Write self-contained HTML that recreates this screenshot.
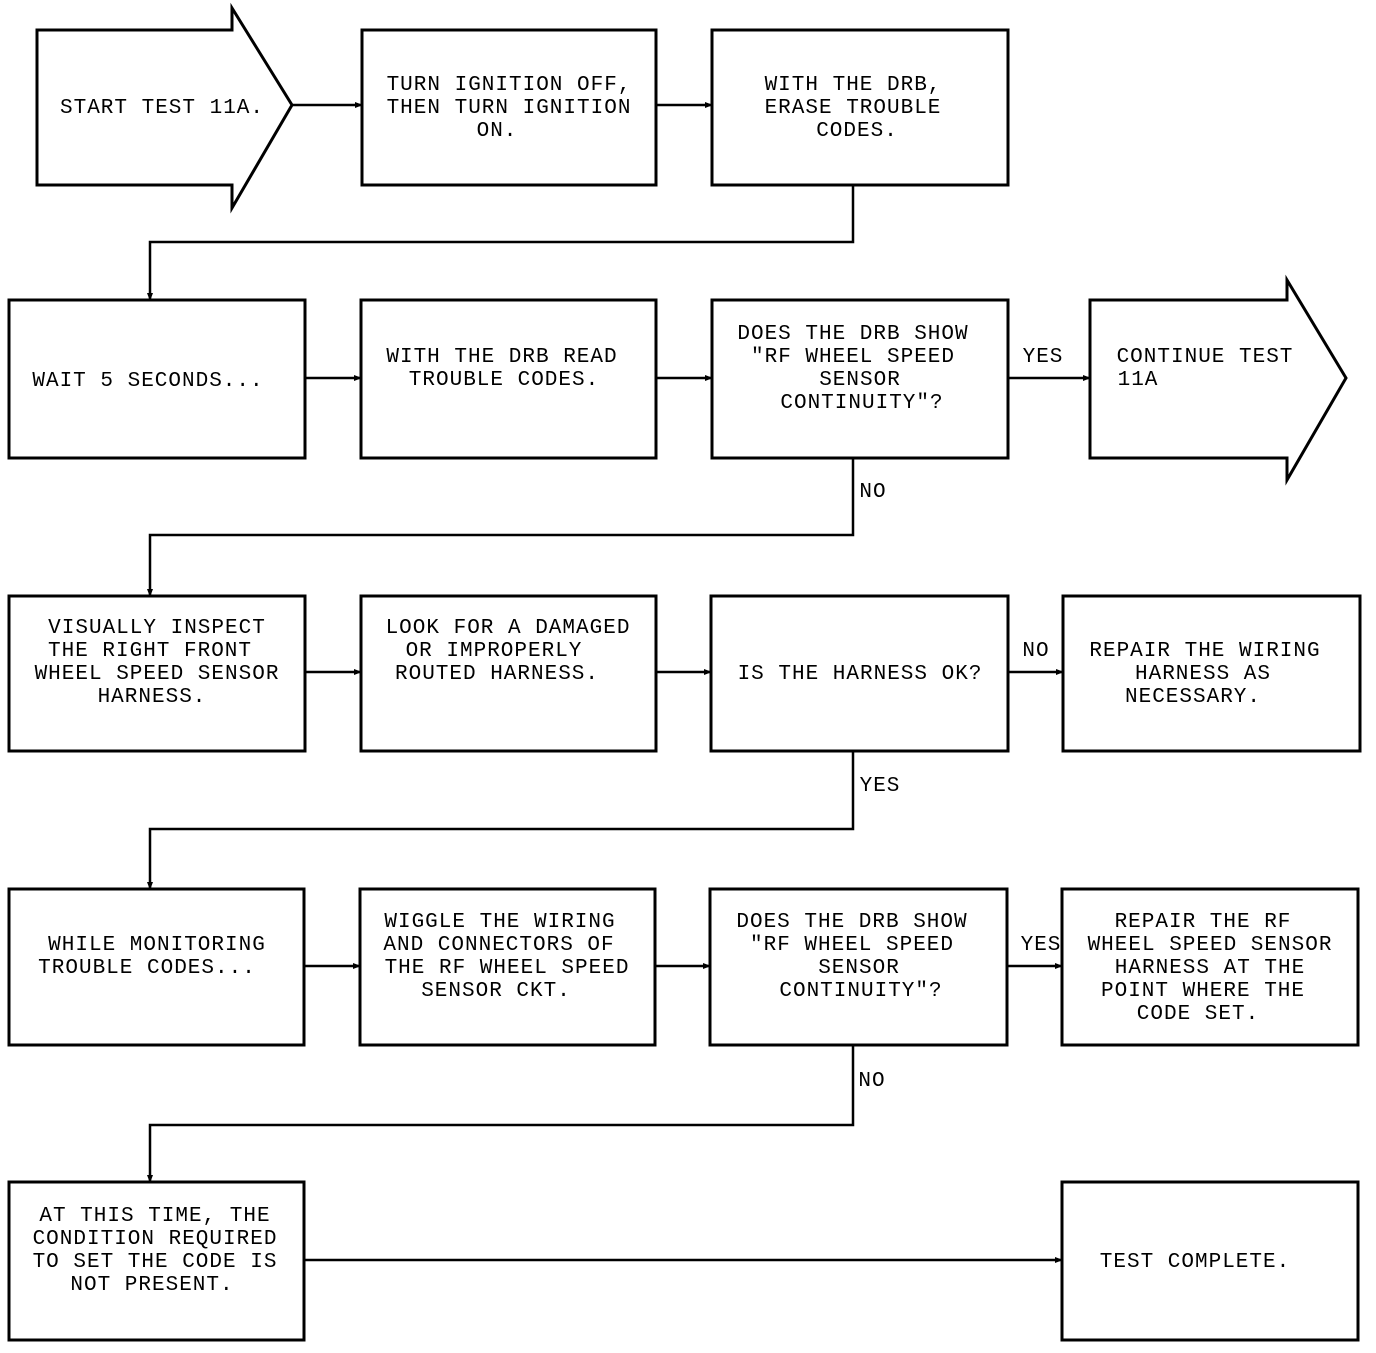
<!DOCTYPE html>
<html><head><style>
html,body{margin:0;padding:0;background:#fff}
svg text{font-family:"Liberation Mono",monospace;font-size:21px;fill:#000;text-anchor:middle;letter-spacing:1px}
</style></head><body>
<svg width="1376" height="1348" viewBox="0 0 1376 1348" xmlns="http://www.w3.org/2000/svg">
<defs><marker id="a" markerWidth="8" markerHeight="8" refX="7" refY="4" orient="auto" markerUnits="userSpaceOnUse"><path d="M0,1 L8,4 L0,7 z" fill="#000"/></marker></defs>
<g fill="none" stroke="#000" stroke-width="3">
<path d="M37,30 H232 V8 L292,105 L232,208 V185 H37 Z"/>
<rect x="362" y="30" width="294" height="155"/>
<rect x="712" y="30" width="296" height="155"/>
<rect x="9" y="300" width="296" height="158"/>
<rect x="361" y="300" width="295" height="158"/>
<rect x="712" y="300" width="296" height="158"/>
<path d="M1090,300 H1287 V280 L1346,378 L1287,480 V458 H1090 Z"/>
<rect x="9" y="596" width="296" height="155"/>
<rect x="361" y="596" width="295" height="155"/>
<rect x="711" y="596" width="297" height="155"/>
<rect x="1063" y="596" width="297" height="155"/>
<rect x="9" y="889" width="295" height="156"/>
<rect x="360" y="889" width="295" height="156"/>
<rect x="710" y="889" width="297" height="156"/>
<rect x="1062" y="889" width="296" height="156"/>
<rect x="9" y="1182" width="295" height="158"/>
<rect x="1062" y="1182" width="296" height="158"/>
</g>
<g fill="none" stroke="#000" stroke-width="2.5" marker-end="url(#a)">
<path d="M292,105 H362"/>
<path d="M656,105 H712"/>
<path d="M853,185 V242 H150 V300"/>
<path d="M305,378 H361"/>
<path d="M656,378 H712"/>
<path d="M1008,378 H1090"/>
<path d="M853,458 V535 H150 V596"/>
<path d="M305,672 H361"/>
<path d="M656,672 H711"/>
<path d="M1008,672 H1063"/>
<path d="M853,751 V829 H150 V889"/>
<path d="M304,966 H360"/>
<path d="M655,966 H710"/>
<path d="M1007,966 H1062"/>
<path d="M853,1045 V1125 H150 V1182"/>
<path d="M304,1260 H1062"/>
</g>
<text x="162" y="113">START TEST 11A.</text>
<text x="509" y="90">TURN IGNITION OFF,</text>
<text x="509" y="113">THEN TURN IGNITION</text>
<text x="497" y="136">ON.</text>
<text x="853" y="90">WITH THE DRB,</text>
<text x="853" y="113">ERASE TROUBLE</text>
<text x="857" y="136">CODES.</text>
<text x="148" y="386">WAIT 5 SECONDS...</text>
<text x="502" y="362">WITH THE DRB READ</text>
<text x="504" y="385">TROUBLE CODES.</text>
<text x="853" y="339">DOES THE DRB SHOW</text>
<text x="853" y="362">"RF WHEEL SPEED</text>
<text x="860" y="385">SENSOR</text>
<text x="862" y="408">CONTINUITY"?</text>
<text x="1043" y="362">YES</text>
<text x="1205" y="362">CONTINUE TEST</text>
<text x="1138" y="385">11A</text>
<text x="873" y="497">NO</text>
<text x="157" y="633">VISUALLY INSPECT</text>
<text x="150" y="656">THE RIGHT FRONT</text>
<text x="157" y="679">WHEEL SPEED SENSOR</text>
<text x="152" y="702">HARNESS.</text>
<text x="508" y="633">LOOK FOR A DAMAGED</text>
<text x="494" y="656">OR IMPROPERLY</text>
<text x="497" y="679">ROUTED HARNESS.</text>
<text x="860" y="679">IS THE HARNESS OK?</text>
<text x="1036" y="656">NO</text>
<text x="1205" y="656">REPAIR THE WIRING</text>
<text x="1203" y="679">HARNESS AS</text>
<text x="1193" y="702">NECESSARY.</text>
<text x="880" y="791">YES</text>
<text x="157" y="950">WHILE MONITORING</text>
<text x="147" y="973">TROUBLE CODES...</text>
<text x="500" y="927">WIGGLE THE WIRING</text>
<text x="499" y="950">AND CONNECTORS OF</text>
<text x="507" y="973">THE RF WHEEL SPEED</text>
<text x="496" y="996">SENSOR CKT.</text>
<text x="852" y="927">DOES THE DRB SHOW</text>
<text x="852" y="950">"RF WHEEL SPEED</text>
<text x="859" y="973">SENSOR</text>
<text x="861" y="996">CONTINUITY"?</text>
<text x="1041" y="950">YES</text>
<text x="1203" y="927">REPAIR THE RF</text>
<text x="1210" y="950">WHEEL SPEED SENSOR</text>
<text x="1210" y="973">HARNESS AT THE</text>
<text x="1203" y="996">POINT WHERE THE</text>
<text x="1198" y="1019">CODE SET.</text>
<text x="872" y="1086">NO</text>
<text x="155" y="1221">AT THIS TIME, THE</text>
<text x="155" y="1244">CONDITION REQUIRED</text>
<text x="155" y="1267">TO SET THE CODE IS</text>
<text x="152" y="1290">NOT PRESENT.</text>
<text x="1195" y="1267">TEST COMPLETE.</text>
</svg>
</body></html>
